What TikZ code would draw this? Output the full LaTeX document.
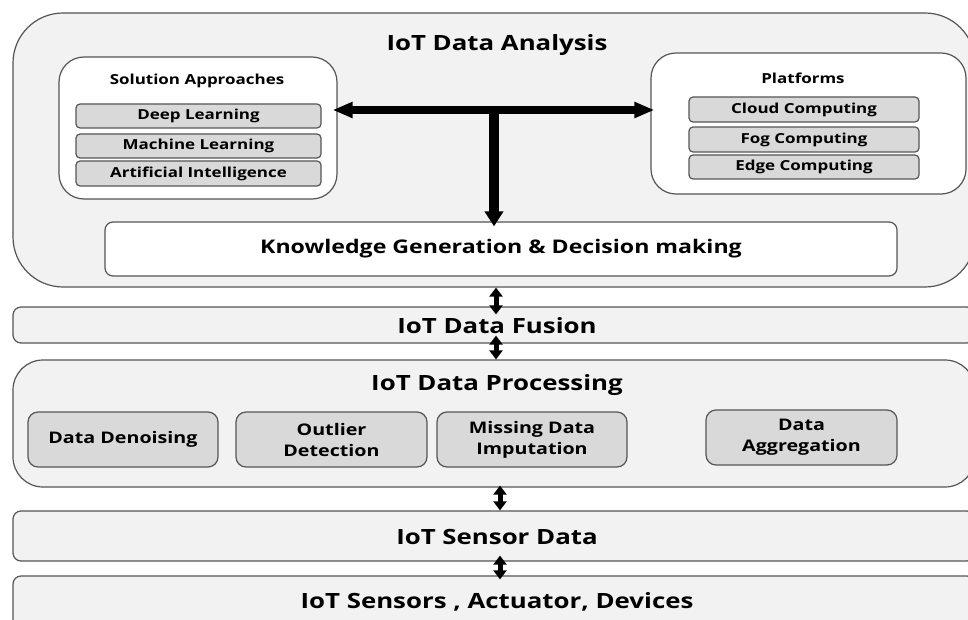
\documentclass[tikz,border=0pt]{standalone}
\usepackage{fontspec}
\setmainfont{Open Sans}[FakeStretch=1.23]
\usetikzlibrary{arrows.meta}
\definecolor{boxline}{HTML}{555555}
\definecolor{layerfill}{HTML}{F2F2F2}
\definecolor{itemfill}{HTML}{D9D9D9}
\tikzset{
  layer/.style={draw=boxline, line width=1.2pt, fill=layerfill, rounded corners=8pt, inner sep=0pt},
  group/.style={draw=boxline, line width=1.2pt, fill=white, rounded corners=25pt, inner sep=0pt},
  item/.style={draw=boxline, line width=1.2pt, fill=itemfill, rounded corners=4pt, inner sep=0pt, font=\bfseries\fontsize{13.8}{16}\selectfont},
  procitem/.style={draw=boxline, line width=1.2pt, fill=itemfill, rounded corners=10pt, inner sep=0pt, align=center, font=\bfseries\fontsize{16}{21}\selectfont},
  title/.style={font=\bfseries\fontsize{21}{24}\selectfont},
  subtitle/.style={font=\bfseries\fontsize{13.8}{16}\selectfont},
  bigarrow/.style={line width=8pt, {Triangle[width=15pt,length=20pt]}-{Triangle[width=15pt,length=20pt]}},
  downarrow/.style={line width=10pt, -{Triangle[width=18pt,length=15pt]}},
  smallarrow/.style={line width=5pt, {Triangle[width=13pt,length=9pt]}-{Triangle[width=13pt,length=9pt]}},
}
\begin{document}
\begin{tikzpicture}[x=1pt,y=-1pt]
\useasboundingbox (0,0) rectangle (968,620);
\fill[white] (0,0) rectangle (968,620);
% layers
\node[layer, rounded corners=50pt, minimum width=962pt, minimum height=274pt] (analysis) at (494,150) {};
\node[layer, minimum width=962pt, minimum height=36pt] (fusion) at (494,325) {};
\node[layer, rounded corners=30pt, minimum width=962pt, minimum height=127pt] (processing) at (494,423.5) {};
\node[layer, minimum width=962pt, minimum height=50pt] (sensordata) at (494,536) {};
\node[layer, minimum width=962pt, minimum height=64pt] (sensors) at (494,608) {};
% analysis contents
\node[title] (analysistitle) at (497,45) {IoT Data Analysis};
\node[group, minimum width=278pt, minimum height=142pt] (sol) at (198,128) {};
\node[subtitle] (soltitle) at (197,81) {Solution Approaches};
\node[item, minimum width=245pt, minimum height=24pt] (deep) at (198.5,116) {Deep Learning};
\node[item, minimum width=245pt, minimum height=24pt] (ml) at (198.5,146) {Machine Learning};
\node[item, minimum width=245pt, minimum height=25pt] (ai) at (198.5,173.5) {Artificial Intelligence};
\node[group, minimum width=315pt, minimum height=141pt] (plat) at (808.5,123.5) {};
\node[subtitle] (plattitle) at (803,78) {Platforms};
\node[item, minimum width=230pt, minimum height=25pt] (cloud) at (804,109.5) {Cloud Computing};
\node[item, minimum width=230pt, minimum height=25pt] (fog) at (804,139.5) {Fog Computing};
\node[item, minimum width=230pt, minimum height=24pt] (edge) at (804,167) {Edge Computing};
\node[draw=boxline, line width=1.2pt, fill=white, rounded corners=8pt, minimum width=792pt, minimum height=54pt, font=\bfseries\fontsize{18.8}{22}\selectfont] (know) at (501,249) {Knowledge Generation \& Decision making};
% T arrow
\coordinate (jn) at (494,110);
\draw[bigarrow, shorten <=-5pt, shorten >=-4pt] (sol.east |- jn) -- (plat.west |- jn);
\draw[downarrow, shorten >=-5pt] (jn) -- (know.north -| jn);
% layer texts
\node[title] (fusiontitle) at (497,326) {IoT Data Fusion};
\node[title] (proctitle) at (497,385) {IoT Data Processing};
\node[title] (sdtitle) at (497,537) {IoT Sensor Data};
\node[title] (sentitle) at (497,602) {IoT Sensors , Actuator, Devices};
% processing items
\node[procitem, minimum width=190pt, minimum height=55pt] (denoise) at (123,439.5) {Data Denoising};
\node[procitem, minimum width=191pt, minimum height=55pt] (outlier) at (331.5,439.5) {Outlier\\Detection};
\node[procitem, minimum width=190pt, minimum height=55pt] (missing) at (532,439.5) {Missing Data\\Imputation};
\node[procitem, minimum width=191pt, minimum height=55pt] (aggr) at (801.5,437.5) {Data\\Aggregation};
% small arrows
\coordinate (c1) at (496,0);
\coordinate (c2) at (500,0);
\draw[smallarrow, shorten <=0pt, shorten >=-8pt] (analysis.south -| c1) -- (fusion.north -| c1);
\draw[smallarrow, shorten <=-8pt, shorten >=0pt] (fusion.south -| c1) -- (processing.north -| c1);
\draw[smallarrow, shorten <=-2pt, shorten >=0pt] (processing.south -| c2) -- (sensordata.north -| c2);
\draw[smallarrow, shorten <=-6pt, shorten >=-4pt] (sensordata.south -| c2) -- (sensors.north -| c2);
\end{tikzpicture}
\end{document}
